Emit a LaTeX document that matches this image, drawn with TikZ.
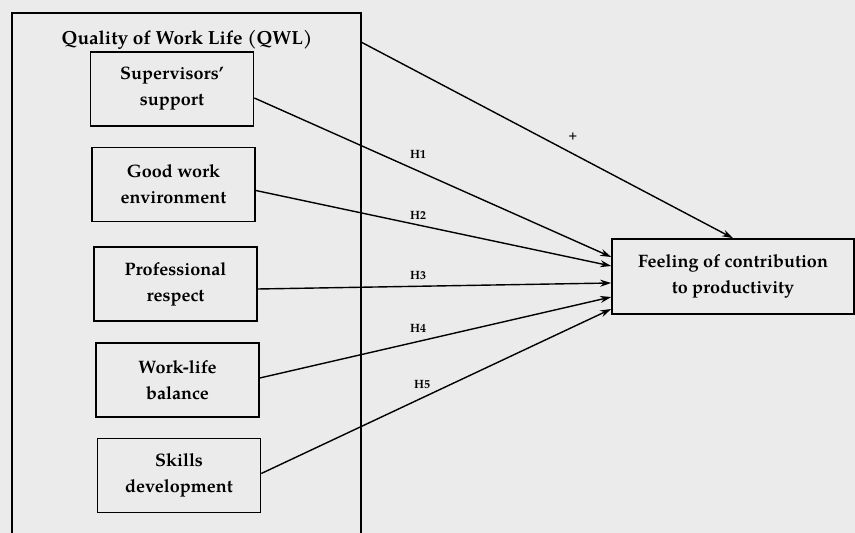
\documentclass[tikz,border=0pt]{standalone}
\usepackage{fontspec}
\setmainfont{TeX Gyre Pagella}
\usetikzlibrary{arrows.meta}

\begin{document}
\begin{tikzpicture}[x=1pt,y=1pt,
  factor/.style={draw,line width=1.6pt,minimum width=163pt,minimum height=74pt,
    align=center,font=\fontsize{18}{26}\selectfont\bfseries},
  link/.style={line width=1.4pt,-{Stealth[length=11pt,width=7pt]}},
  hyp/.style={font=\fontsize{12}{14}\selectfont\bfseries}]
  \fill[black!8] (0,0) rectangle (855,533);
  \useasboundingbox (0,0) rectangle (855,533);
  % QWL frame, open at the bottom
  \draw[line width=1.6pt] (12,0) |- (361,520) -- (361,0);
  \node[font=\fontsize{19}{22}\selectfont\bfseries] (title) at (187,493) {Quality of Work Life (QWL)};
  \coordinate (qwl) at (361,491);
  % the five factors
  \node[factor] (sup)   at (172,444)   {Supervisors'\\support};
  \node[factor] (env)   at (173.5,348.5) {Good work\\environment};
  \node[factor] (resp)  at (175.5,249) {Professional\\respect};
  \node[factor] (wlb)   at (177.5,153) {Work-life\\balance};
  \node[factor] (skill) at (179,57.5)  {Skills\\development};
  \node[factor,minimum width=242pt,minimum height=75pt] (feel) at (733,256.5)
    {Feeling of contribution\\to productivity};
  % hypotheses
  \draw[link] (qwl) -- (feel.north);
  \draw[link] ([yshift=-9pt]sup.east) -- ([yshift=19.5pt]feel.west);
  \draw[link] ([yshift=-6pt]env.east) -- ([yshift=10.5pt]feel.west);
  \draw[link] ([yshift=-5pt]resp.east) -- ([yshift=-6.5pt]feel.west);
  \draw[link] ([yshift=2pt]wlb.east) -- ([yshift=-20.5pt]feel.west);
  \draw[link] ([yshift=2pt]skill.east) -- ([yshift=-32.5pt]feel.west);
  \node[hyp] (plus) at (573,396) {+};
  \node[hyp] (h1) at (418,379) {H1};
  \node[hyp] (h2) at (418,318) {H2};
  \node[hyp] (h3) at (418,257) {H3};
  \node[hyp] (h4) at (418,205) {H4};
  \node[hyp] (h5) at (422,148) {H5};
\end{tikzpicture}
\end{document}
